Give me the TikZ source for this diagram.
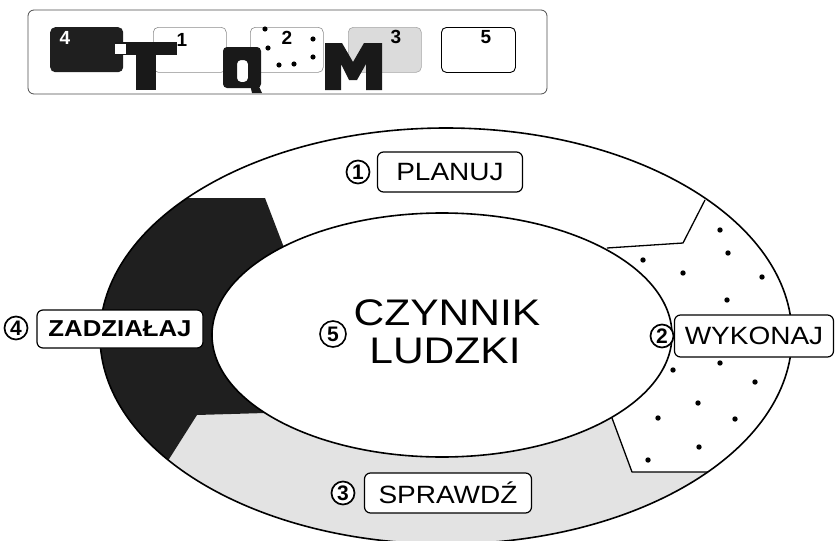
\documentclass[tikz,border=0pt]{standalone}
\usepackage{fontspec}
\setmainfont{Liberation Sans}
\newfontfamily\lblfont[FakeStretch=1.12]{Liberation Sans}
\newfontfamily\bigfont[FakeStretch=1.15]{Liberation Sans}
\newfontfamily\digitfont{Liberation Sans Bold}
\begin{document}
\begin{tikzpicture}[x=1pt,y=-1pt,
  stagebox/.style={draw, line width=1.2pt, rounded corners=6pt, fill=white,
    inner sep=0pt, font=\lblfont\fontsize{25}{25}\selectfont},
  numcirc/.style={draw, circle, line width=1.7pt, inner sep=0pt,
    minimum size=23pt, fill=white, font=\digitfont\fontsize{21}{21}\selectfont},
  tab/.style={rounded corners=5pt, minimum width=73pt, minimum height=45pt,
    inner sep=0pt, anchor=north west},
  tabnum/.style={font=\digitfont\fontsize{19}{19}\selectfont, inner sep=0pt},
  rim/.style={line width=1.6pt}]
\useasboundingbox (0,0) rectangle (836,541);

% ---------------- header strip with T Q M ----------------
\draw[line width=0.8pt, black!70, rounded corners=6pt] (28,10) rectangle (547,94);
\node[tab, fill=black!88] (t4) at (50,27) {};
\node[tab, draw=black!45, line width=0.6pt] (t1) at (153,27) {};
\node[tab, draw=black!45, line width=0.6pt] (t2) at (250,27) {};
\node[tab, draw=black!35, line width=0.6pt, fill=black!14] (t3) at (348,27) {};
\node[tab, draw=black, line width=0.9pt, minimum width=74pt] (t5) at (441,27) {};
\node[tabnum, text=white] (n4) at (65,38) {4};
\node[tabnum] (n1) at (182,40) {1};
\node[tabnum] (n2) at (287,38) {2};
\node[tabnum] (n3) at (396,37) {3};
\node[tabnum] (n5) at (486,37) {5};
% dots of tab 2
\foreach \p in {(265,29),(268,48),(279,65),(294,64),(313,39),(313,57)}
  \fill \p circle [radius=2.6pt];
% letter T
\fill[black!90] (115,42) rectangle (177,55);
\fill[black!90] (136,55) rectangle (156,90);
\fill[white] (115,44) rectangle (126,54);
% letter Q
\fill[black!90, even odd rule, rounded corners=4pt]
  (223,47) rectangle (261,88) (237,60) rectangle (248,82);
\fill[black!90] (249,80) -- (256,80) -- (262,93) -- (252,93) -- cycle;
% letter M
\fill[black!90] (325,90) -- (325,43) -- (342,43) -- (353,62) -- (364,43)
  -- (382,43) -- (382,90) -- (366,90) -- (366,64) -- (357,80) -- (349,80)
  -- (341,64) -- (341,90) -- cycle;

% ---------------- ring ----------------
\def\outerring{(446,336) ellipse [x radius=346pt, y radius=208pt]}
\def\innerring{(442,335) ellipse [x radius=230pt, y radius=122pt]}
% CHECK (grey)
\begin{scope}
  \clip (140,505) -- (197,415) -- (300,412) -- (580,400) -- (612,418)
    -- (632,472) -- (720,472) -- (720,560) -- (140,560) -- cycle;
  \fill[black!11, even odd rule] \outerring \innerring;
\end{scope}
% ACT (dark)
\begin{scope}
  \clip (0,198) -- (265,198) -- (283,245) -- (330,335) -- (300,412)
    -- (197,415) -- (140,505) -- (0,505) -- cycle;
  \fill[black!88, even odd rule] \outerring \innerring;
\end{scope}
% DO (dotted) borders
\coordinate (da) at (705,200);
\coordinate (db) at (683,243);
\coordinate (dc) at (607,248);
\coordinate (dd) at (612,418);
\coordinate (de) at (632,472);
\coordinate (df) at (708,472);
\draw[line width=1.3pt, line join=round] (da) -- (db) -- (dc);
\draw[line width=1.3pt, line join=round] (dd) -- (de) -- (df);
\foreach \p in {(720,230),(728,253),(683,273),(643,260),(762,277),(727,300),
    (673,370),(720,363),(755,382),(698,403),(658,418),(735,419),(699,447),(648,460)}
  \fill \p circle [radius=2.7pt];
% ring outlines
\draw[rim] \outerring;
\draw[rim] \innerring;

% ---------------- labels ----------------
\node[stagebox, minimum width=145pt, minimum height=40pt] (plan) at (450,172) {PLANUJ};
\node[numcirc] (c1) at (358,172) {1};
\node[stagebox, minimum width=159pt, minimum height=42pt] (wyk) at (754,336) {WYKONAJ};
\node[numcirc] (c2) at (662,336) {2};
\node[stagebox, minimum width=167pt, minimum height=40pt] (spr) at (448,493) {SPRAWDŹ};
\node[numcirc] (c3) at (343,493) {3};
\node[stagebox, minimum width=166pt, minimum height=38pt,
  font=\lblfont\bfseries\fontsize{23}{23}\selectfont] (zad) at (120,329) {ZADZIAŁAJ};
\node[numcirc] (c4) at (16,328) {4};

% centre
\node[font=\bigfont\fontsize{37}{37}\selectfont, anchor=base, inner sep=0pt] (cz) at (447,325) {CZYNNIK};
\node[font=\bigfont\fontsize{37}{37}\selectfont, anchor=base, inner sep=0pt] (lu) at (445,363) {LUDZKI};
\node[numcirc, minimum size=26pt, line width=1.6pt] (c5) at (333,334) {5};
\end{tikzpicture}
\end{document}
